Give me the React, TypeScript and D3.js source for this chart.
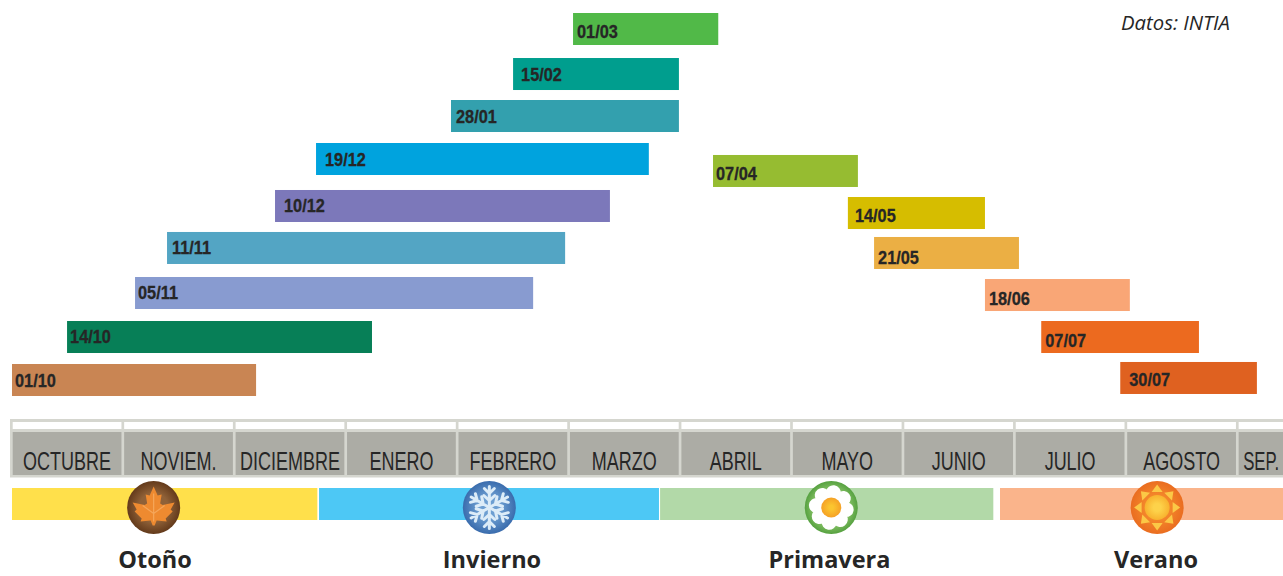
import React from 'react'
import * as d3 from 'd3'

const WIDTH = 1283
const HEIGHT = 576

// bars, positions read in months counted from 1 October
const startLabels = ['01/03', '15/02', '28/01', '19/12', '10/12', '11/11', '05/11', '14/10', '01/10', '07/04', '14/05', '21/05', '18/06', '07/07', '30/07']
const barStart = [5.034, 4.496, 3.939, 2.728, 2.36, 1.391, 1.104, 0.494, 0, 6.29, 7.5, 7.735, 8.73, 9.235, 9.944]
const barEnd = [6.337, 5.984, 5.984, 5.714, 5.365, 4.963, 4.676, 3.23, 2.19, 7.59, 8.73, 9.035, 10.03, 10.65, 11.17]
const barRow = [0, 1.026, 1.983, 2.963, 4.034, 4.991, 6.017, 7.02, 8, 3.236, 4.194, 5.105, 6.063, 7.02, 7.954]
const barColors = ['#51b948', '#009e8e', '#33a0ae', '#00a3de', '#7c78ba', '#53a5c4', '#889bd0', '#077f57', '#c98553', '#96bc31', '#d6bd00', '#ebaf44', '#f9a676', '#ec6a1f', '#df6120']

// the labels do not sit at one fixed place inside their bars
const labelDx = [4, 8, 5, 9, 9, 5, 3, 3, 3, 3, 7, 4, 4, 4, 9]
const labelDy = [25, 22.5, 22.5, 22.5, 22.5, 22.5, 22.3, 22.3, 22.7, 25, 25, 27, 26, 26, 24.5]

const months = ['OCTUBRE', 'NOVIEM.', 'DICIEMBRE', 'ENERO', 'FEBRERO', 'MARZO', 'ABRIL', 'MAYO', 'JUNIO', 'JULIO', 'AGOSTO', 'SEP.']

const seasons = ['Otoño', 'Invierno', 'Primavera', 'Verano']
const seasonStart = [0, 2.755, 5.815, 8.865]
const seasonEnd = [2.74, 5.805, 8.805, 11.6]
const seasonColors = ['#ffe04b', '#4dc8f5', '#b2d9a8', '#fab48b']
const seasonIcon = [1.271, 4.283, 7.351, 10.275]
const seasonText = [1.283, 4.307, 7.335, 10.265]

const x = d3.scaleLinear().domain([0, 12]).range([12, 12 + 12 * 111.45])
const y = d3.scaleLinear().domain([0, 8]).range([13, 364])

// no condensed font installed, so Liberation Sans gets squeezed
const narrow = "'Liberation Sans', Arial, sans-serif"

function Leaf() {
  // maple leaf outline, one half gets mirrored
  const half: [number, number][] = [[0, -21], [4, -12], [8, -13], [6.5, -4], [9, -2.5], [21, -5], [17, 2], [19, 4], [12, 11], [13, 14], [3, 13], [1, 18]]
  const pts = [...half, ...half.slice().reverse().map(p => [-p[0], p[1]] as [number, number])]
  return <g>
    <circle r={26.5} fill="url(#leafBg)" />
    <path d={d3.line()(pts) + 'Z'} fill="#ee8a30" />
    <path d="M0,-14V14M0,6L11,-2M0,6L-11,-2" stroke="#f5a65a" strokeWidth={1.2} fill="none" />
  </g>
}

function Snow() {
  return <g>
    <circle r={26.5} fill="url(#snowBg)" />
    {d3.range(6).map(i => <g key={i} transform={`rotate(${i * 60})`} stroke="#dcecf8" strokeWidth={3} strokeLinecap="round" fill="none">
      <path d="M0,0V-21M-5,-19L0,-14L5,-19M-5.5,-12L0,-7L5.5,-12" />
    </g>)}
  </g>
}

function Flower() {
  return <g>
    <circle r={26.5} fill="url(#flowerBg)" />
    {d3.range(8).map(i => <circle key={i} cy={-15} r={7.5} fill="#ffffff" transform={`rotate(${i * 45 + 8})`} />)}
    <circle r={15} fill="#ffffff" />
    <circle r={10} fill="url(#flowerMid)" />
  </g>
}

function Sun() {
  return <g>
    <circle r={26.5} fill="url(#sunBg)" />
    {d3.range(8).map(i => <path key={i} d="M-5.5,-15.5L0,-23L5.5,-15.5Z" fill="#fbc846" transform={`rotate(${i * 45})`} />)}
    <circle r={12.5} fill="url(#sunMid)" />
  </g>
}

const icons = [Leaf, Snow, Flower, Sun]

export default function App() {
  return <svg width={WIDTH} height={HEIGHT} style={{ position: 'absolute', left: 0, top: 0 }}>
    <defs>
      <radialGradient id="leafBg"><stop offset="55%" stopColor="#8f6138" /><stop offset="100%" stopColor="#633a1b" /></radialGradient>
      <radialGradient id="snowBg"><stop offset="40%" stopColor="#6d9fd2" /><stop offset="100%" stopColor="#3a6cad" /></radialGradient>
      <radialGradient id="flowerBg"><stop offset="70%" stopColor="#82bf63" /><stop offset="100%" stopColor="#56a140" /></radialGradient>
      <radialGradient id="flowerMid"><stop offset="20%" stopColor="#fbc52f" /><stop offset="100%" stopColor="#f5a126" /></radialGradient>
      <radialGradient id="sunBg"><stop offset="50%" stopColor="#f3852a" /><stop offset="100%" stopColor="#ea6d20" /></radialGradient>
      <radialGradient id="sunMid"><stop offset="30%" stopColor="#fdd24a" /><stop offset="100%" stopColor="#f8b22e" /></radialGradient>
    </defs>
    <rect width={WIDTH} height={HEIGHT} fill="#ffffff" />

    {startLabels.map((d, i) => <g key={d}>
      <rect x={x(barStart[i])} y={y(barRow[i])} width={x(barEnd[i]) - x(barStart[i])} height={32} fill={barColors[i]} />
      <text transform={`translate(${x(barStart[i]) + labelDx[i]},${y(barRow[i]) + labelDy[i]}) scale(0.86,1)`} fontFamily={narrow} fontWeight="bold" fontSize={19} fill="#262626" stroke="#262626" strokeWidth={0.3}>{d}</text>
    </g>)}

    <text x={1230} y={30} textAnchor="end" fontFamily="'Open Sans'" fontStyle="italic" fontSize={20.3} fill="#262626">Datos: INTIA</text>

    <rect x={10} y={419} width={WIDTH - 10} height={58.5} fill="#d5d6cf" />
    {months.map((m, i) => {
      const x0 = x(i) + 0.7
      const x1 = Math.min(x(i + 1) - 2, WIDTH)
      const last = m === 'SEP.'
      const tx = last ? x0 + 4.5 : (x0 + x1) / 2
      return <g key={m}>
        <rect x={x0} y={422} width={x1 - x0} height={7} fill="#ffffff" />
        <rect x={x0} y={432} width={x1 - x0} height={43} fill="#acaca5" />
        <text transform={`translate(${tx},470) scale(${last ? 0.67 : 0.72},1)`} textAnchor={last ? 'start' : 'middle'} fontFamily={narrow} fontSize={25} fill="#262626">{m}</text>
      </g>
    })}

    {seasons.map((s, i) => {
      const Icon = icons[i]
      return <g key={s}>
        <rect x={x(seasonStart[i])} y={488} width={x(seasonEnd[i]) - x(seasonStart[i])} height={32} fill={seasonColors[i]} />
        <g transform={`translate(${x(seasonIcon[i])},507.5)`}><Icon /></g>
        <text x={x(seasonText[i])} y={568} textAnchor="middle" fontFamily="'Open Sans'" fontWeight="bold" fontSize={23.5} fill="#262626">{s}</text>
      </g>
    })}
  </svg>
}
